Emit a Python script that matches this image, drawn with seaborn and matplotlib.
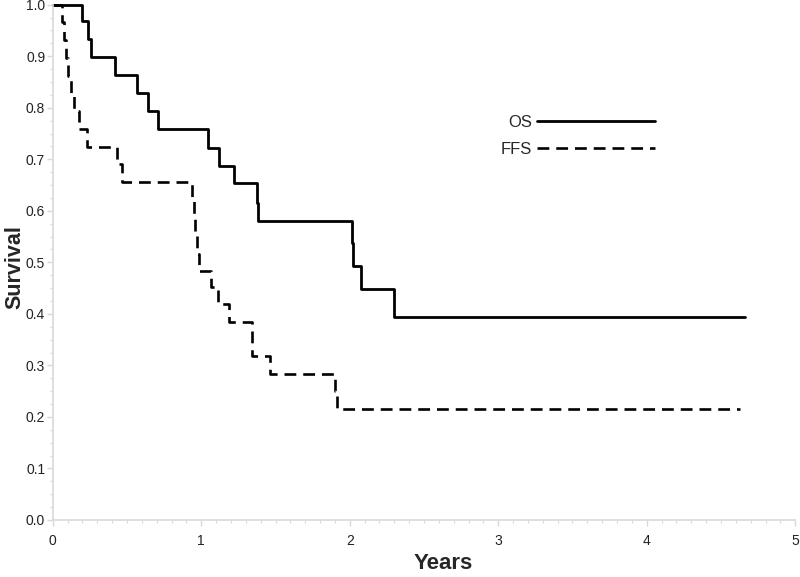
import matplotlib
matplotlib.use("Agg")
import matplotlib.pyplot as plt
from matplotlib.ticker import MultipleLocator, FormatStrFormatter
import seaborn as sns
import pandas as pd

# ---- data ----
os_years = [0.0, 0.197, 0.24, 0.26, 0.418, 0.57, 0.64, 0.707, 1.044, 1.12, 1.22,
            1.375, 1.38, 2.015, 2.025, 2.075, 2.30, 4.66]
os_surv = [1.0, 0.969, 0.934, 0.899, 0.864, 0.829, 0.794, 0.759, 0.722, 0.687, 0.654,
           0.615, 0.580, 0.537, 0.492, 0.449, 0.393, 0.393]

ffs_years = [0.0, 0.06, 0.075, 0.09, 0.105, 0.125, 0.145, 0.175, 0.23, 0.43, 0.465,
             0.937, 0.95, 0.96, 0.972, 0.985, 1.065, 1.11, 1.19, 1.34, 1.46,
             1.90, 1.915, 4.63]
ffs_surv = [1.0, 0.966, 0.931, 0.897, 0.862, 0.828, 0.793, 0.759, 0.724, 0.690, 0.655,
            0.621, 0.586, 0.552, 0.517, 0.483, 0.452, 0.420, 0.385, 0.319, 0.284,
            0.250, 0.216, 0.216]

series_labels = ["OS", "FFS"]
x_ticks = [0, 1, 2, 3, 4, 5]
y_ticks = [0.0, 0.1, 0.2, 0.3, 0.4, 0.5, 0.6, 0.7, 0.8, 0.9, 1.0]

os_df = pd.DataFrame({"Years": os_years, "Survival": os_surv})
ffs_df = pd.DataFrame({"Years": ffs_years, "Survival": ffs_surv})

sns.set_style("white")
plt.rcParams["font.family"] = ["Liberation Sans", "DejaVu Sans"]
plt.rcParams["lines.scale_dashes"] = False

fig = plt.figure(figsize=(8.0, 5.77), dpi=100)
ax = fig.add_axes([0.066, 0.0988, 0.928, 0.893])

sns.lineplot(data=os_df, x="Years", y="Survival", ax=ax, estimator=None, sort=False,
             drawstyle="steps-post", color="black", linewidth=2.0,
             label=series_labels[0])
sns.lineplot(data=ffs_df, x="Years", y="Survival", ax=ax, estimator=None, sort=False,
             drawstyle="steps-post", color="black", linewidth=1.9,
             dashes=False, label=series_labels[1])
ax.lines[1].set_dashes((8.5, 5.0))

ax.set_xlim(0, 5)
ax.set_ylim(0, 1.0)
ax.set_xticks(x_ticks)
ax.set_yticks(y_ticks)
ax.yaxis.set_major_formatter(FormatStrFormatter("%.1f"))
ax.xaxis.set_minor_locator(MultipleLocator(0.1))
ax.yaxis.set_minor_locator(MultipleLocator(0.025))

spine_col = "#d9d9d9"
for side in ["top", "right"]:
    ax.spines[side].set_visible(False)
for side in ["left", "bottom"]:
    ax.spines[side].set_color(spine_col)
    ax.spines[side].set_linewidth(1.2)

ax.tick_params(axis="both", which="major", direction="out", length=4, width=1,
               color=spine_col, labelsize=10, labelcolor="#222222")
ax.tick_params(axis="both", which="minor", direction="out", length=2.5, width=0.8,
               color=spine_col)
ax.tick_params(axis="x", which="major", pad=6)
ax.tick_params(axis="y", which="major", pad=1.5)
ax.tick_params(axis="y", which="both", left=True)
ax.tick_params(axis="x", which="both", bottom=True)

ax.set_xlabel("Years", fontsize=16, fontweight="bold")
ax.set_ylabel("Survival", fontsize=15.5, fontweight="bold")
ax.xaxis.set_label_coords(0.526, -0.064)
ax.yaxis.set_label_coords(-0.0365, 0.49)
for ln in ax.lines:
    ln.set_clip_on(False)

leg = ax.legend(loc="upper left", bbox_to_anchor=(0.603, 0.786), frameon=False,
                markerfirst=False, handlelength=7.1, handletextpad=0.3,
                labelspacing=0.72, borderpad=0, borderaxespad=0,
                prop={"family": ["Liberation Sans"], "size": 12})

fig.savefig("out.png", dpi=100)
